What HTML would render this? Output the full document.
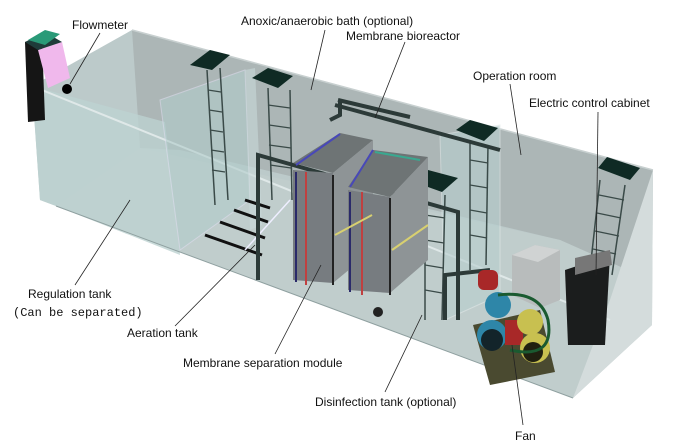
<!DOCTYPE html>
<html><head><meta charset="utf-8"><style>
html,body{margin:0;padding:0;background:#fff;width:680px;height:445px;overflow:hidden}
svg{display:block}
text{font-family:"Liberation Sans",Arial,sans-serif;font-size:12px;fill:#111}
</style></head><body>
<svg width="680" height="445" viewBox="0 0 680 445">
<polygon points="32,86 132,30 653,170 652,325 573,398 56,206 40,200" fill="#bccaca"/>
<polygon points="132,30 653,170 650,280 560,240 180,150 140,148" fill="#acb6b6"/>
<polygon points="56,206 140,148 560,240 650,280 573,398" fill="#c0cdcc"/>
<polygon points="32,86 165,122 180,255 56,206 40,200" fill="#bdd2d1" opacity=".8"/>
<polygon points="610,300 653,170 652,325 573,398" fill="#d4dcdc"/>
<line x1="32" y1="86" x2="610" y2="320" stroke="#dfe8e8" stroke-width="2"/>
<line x1="56" y1="206" x2="573" y2="398" stroke="#8fa0a0" stroke-width="1"/>
<line x1="132" y1="30" x2="653" y2="170" stroke="#c8d0d0" stroke-width="1.5"/>
<polygon points="160,100 245,70 250,200 180,250" fill="#b2cccb" opacity=".6" stroke="#dde" stroke-width="1"/>
<polygon points="245,70 255,68 262,225 250,230" fill="#c8d8d8" opacity=".6"/>
<polygon points="440,135 500,125 500,295 445,320" fill="#b8cfcf" opacity=".6" stroke="#e0e8e8"/>
<polygon points="190,65 210,50 230,55 212,70" fill="#0f2a24"/>
<polygon points="252,78 268,68 293,76 278,88" fill="#0f2a24"/>
<polygon points="456,130 470,120 498,128 484,141" fill="#0f2a24"/>
<polygon points="414,182 428,170 458,178 442,192" fill="#0f2a24"/>
<polygon points="598,168 607,157 640,168 630,180" fill="#0f2a24"/>
<g stroke="#3a4a48" stroke-width="1.5" fill="none">
<line x1="207" y1="70" x2="215" y2="205"/><line x1="220" y1="68" x2="228" y2="200"/>
<line x1="268" y1="88" x2="272" y2="200"/><line x1="290" y1="90" x2="292" y2="200"/>
<line x1="470" y1="140" x2="470" y2="270"/><line x1="488" y1="145" x2="486" y2="265"/>
<line x1="425" y1="192" x2="425" y2="320"/><line x1="445" y1="195" x2="442" y2="320"/>
<line x1="600" y1="180" x2="590" y2="270"/><line x1="625" y1="185" x2="612" y2="275"/>
</g>
<g stroke="#3a4a48" stroke-width="1.2">
<line x1="208" y1="90" x2="221" y2="92"/><line x1="209" y1="110" x2="222" y2="112"/><line x1="210" y1="130" x2="223" y2="132"/><line x1="211" y1="150" x2="224" y2="152"/><line x1="212" y1="170" x2="225" y2="172"/>
<line x1="268" y1="105" x2="290" y2="108"/><line x1="269" y1="125" x2="290" y2="128"/><line x1="269" y1="145" x2="291" y2="148"/><line x1="270" y1="165" x2="291" y2="168"/>
<line x1="470" y1="160" x2="488" y2="163"/><line x1="470" y1="185" x2="488" y2="188"/><line x1="470" y1="210" x2="487" y2="213"/><line x1="470" y1="235" x2="487" y2="238"/>
<line x1="425" y1="215" x2="445" y2="218"/><line x1="425" y1="240" x2="444" y2="243"/><line x1="425" y1="265" x2="443" y2="268"/><line x1="425" y1="290" x2="442" y2="293"/>
<line x1="599" y1="195" x2="624" y2="200"/><line x1="597" y1="213" x2="621" y2="218"/><line x1="595" y1="231" x2="619" y2="236"/><line x1="593" y1="249" x2="616" y2="254"/>
</g>
<g stroke="#111" stroke-width="3">
<line x1="205" y1="235" x2="262" y2="255"/><line x1="220" y1="222" x2="265" y2="238"/><line x1="234" y1="210" x2="268" y2="222"/><line x1="245" y1="200" x2="270" y2="208"/>
</g>
<line x1="245" y1="250" x2="290" y2="200" stroke="#eef" stroke-width="1.5"/>
<g stroke="#2c3a38" stroke-width="4" fill="none">
<polyline points="258,280 258,155 458,212 458,320"/>
<polyline points="340,100 340,115 330,120"/>
<line x1="338" y1="100" x2="410" y2="117"/>
<line x1="335" y1="105" x2="500" y2="150"/>
<polyline points="445,320 445,275 490,270"/>
</g>
<polygon points="293,163 340,133 373,140 333,173" fill="#6e7475"/>
<polygon points="293,170 333,173 333,283 293,280" fill="#777c80"/>
<polygon points="333,173 373,140 373,250 333,283" fill="#8e9496"/>
<polygon points="348,187 373,150 428,157 390,197" fill="#6e7475"/>
<polygon points="348,190 390,197 390,293 348,290" fill="#777c80"/>
<polygon points="390,197 428,157 428,260 390,293" fill="#8e9496"/>
<g stroke-width="2" fill="none">
<line x1="296" y1="165" x2="340" y2="134" stroke="#4848b8"/>
<line x1="350" y1="187" x2="373" y2="150" stroke="#4848b8"/>
<line x1="375" y1="152" x2="420" y2="160" stroke="#3aa890"/>
<line x1="306" y1="172" x2="306" y2="285" stroke="#c04040"/>
<line x1="362" y1="192" x2="362" y2="295" stroke="#c04040"/>
<line x1="296" y1="172" x2="296" y2="282" stroke="#2a2a6a"/>
<line x1="333" y1="175" x2="333" y2="285" stroke="#222"/>
<line x1="350" y1="192" x2="350" y2="292" stroke="#2a2a6a"/>
<line x1="390" y1="198" x2="390" y2="295" stroke="#222"/>
<line x1="335" y1="235" x2="372" y2="215" stroke="#d8d070"/>
<line x1="392" y1="250" x2="428" y2="225" stroke="#d8d070"/>
</g>
<circle cx="378" cy="312" r="5" fill="#222"/>
<polygon points="512,255 535,245 560,250 560,300 540,308 512,295" fill="#b8bcbc"/>
<polygon points="512,255 535,245 560,250 538,262" fill="#d0d3d3"/>
<polygon points="565,270 610,255 605,345 568,345" fill="#1b1d1d"/>
<polygon points="575,258 610,250 612,265 575,275" fill="#777"/>
<polygon points="473,325 540,310 555,372 490,385" fill="#4a4a30"/>
<rect x="478" y="270" width="20" height="20" rx="6" fill="#a82828"/>
<circle cx="498" cy="305" r="13" fill="#2e86a8"/>
<circle cx="492" cy="335" r="15" fill="#2e86a8"/>
<circle cx="492" cy="340" r="11" fill="#13242a"/>
<rect x="505" y="320" width="18" height="25" fill="#a82828"/>
<circle cx="530" cy="322" r="13" fill="#c8c050"/>
<circle cx="535" cy="348" r="15" fill="#c8c050"/>
<circle cx="533" cy="352" r="10" fill="#202010"/>
<path d="M498,295 Q540,290 548,320 Q555,360 510,350" stroke="#1a5a30" stroke-width="3" fill="none"/>
<polygon points="25,42 42,38 45,120 28,122" fill="#151515"/>
<polygon points="38,50 62,42 70,78 48,88" fill="#f0b8ec"/>
<polygon points="25,42 45,32 62,42 38,50" fill="#1f3c3a"/>
<polygon points="28,40 45,30 60,34 45,45" fill="#2a9a78"/>
<circle cx="67" cy="89" r="5" fill="#000"/>
<g stroke="#222" stroke-width="0.8">
<line x1="100" y1="33" x2="70" y2="84"/>
<line x1="325" y1="30" x2="311" y2="90"/>
<line x1="405" y1="42" x2="375" y2="118"/>
<line x1="510" y1="84" x2="521" y2="155"/>
<line x1="598" y1="112" x2="596" y2="275"/>
<line x1="75" y1="285" x2="130" y2="200"/>
<line x1="175" y1="326" x2="255" y2="245"/>
<line x1="275" y1="354" x2="321" y2="265"/>
<line x1="385" y1="392" x2="422" y2="315"/>
<line x1="523" y1="425" x2="512" y2="345"/>
</g>
<text x="72" y="29">Flowmeter</text>
<text x="241" y="25">Anoxic/anaerobic bath (optional)</text>
<text x="346" y="40">Membrane bioreactor</text>
<text x="473" y="80">Operation room</text>
<text x="529" y="107">Electric control cabinet</text>
<text x="28" y="298">Regulation tank</text>
<text x="13" y="316" style="font-family:'Liberation Mono',monospace;font-size:12px">(Can be separated)</text>
<text x="127" y="337">Aeration tank</text>
<text x="183" y="367">Membrane separation module</text>
<text x="315" y="406">Disinfection tank (optional)</text>
<text x="515" y="440">Fan</text>
</svg>
</body></html>
